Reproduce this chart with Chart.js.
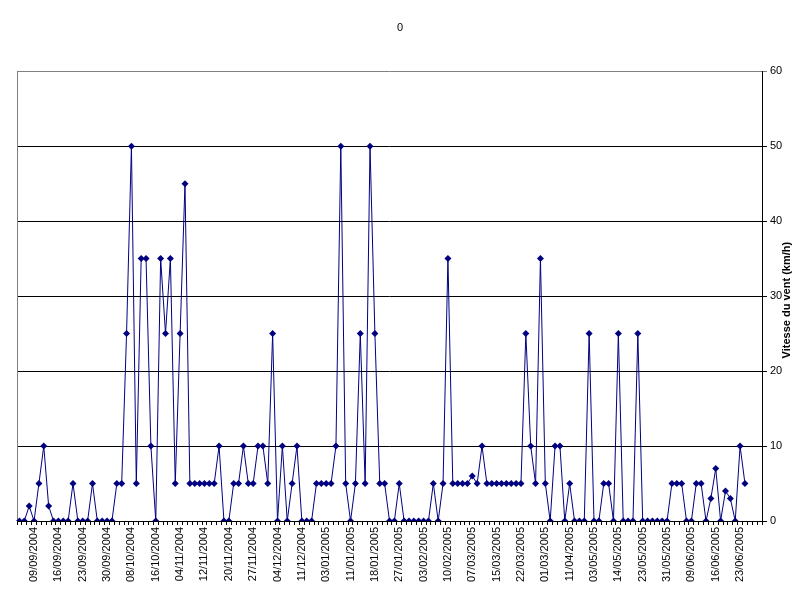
<!DOCTYPE html>
<html>
<head>
<meta charset="utf-8">
<script src="https://cdn.jsdelivr.net/npm/chart.js@4.4.0/dist/chart.umd.min.js"></script>
<style>
  body { margin: 0; background: #fff; }
</style>
</head>
<body>
<canvas id="chart" width="800" height="600"></canvas>
<script>
// dates shown under the axis (one every 5 readings)
const dateLabels = [
  '09/09/2004', '16/09/2004', '23/09/2004', '30/09/2004', '08/10/2004',
  '16/10/2004', '04/11/2004', '12/11/2004', '20/11/2004', '27/11/2004',
  '04/12/2004', '11/12/2004', '03/01/2005', '11/01/2005', '18/01/2005',
  '27/01/2005', '03/02/2005', '10/02/2005', '07/03/2005', '15/03/2005',
  '22/03/2005', '01/03/2005', '11/04/2005', '03/05/2005', '14/05/2005',
  '23/05/2005', '31/05/2005', '09/06/2005', '16/06/2005', '23/06/2005'
];
const firstLabel = 3;
const labelStep = 5;
const slots = 153;

// wind speed readings (km/h)
const windSpeed = [
  0, 0, 2, 0, 5, 10, 2, 0, 0, 0,
  0, 5, 0, 0, 0, 5, 0, 0, 0, 0,
  5, 5, 25, 50, 5, 35, 35, 10, 0, 35,
  25, 35, 5, 25, 45, 5, 5, 5, 5, 5,
  5, 10, 0, 0, 5, 5, 10, 5, 5, 10,
  10, 5, 25, 0, 10, 0, 5, 10, 0, 0,
  0, 5, 5, 5, 5, 10, 50, 5, 0, 5,
  25, 5, 50, 25, 5, 5, 0, 0, 5, 0,
  0, 0, 0, 0, 0, 5, 0, 5, 35, 5,
  5, 5, 5, 6, 5, 10, 5, 5, 5, 5,
  5, 5, 5, 5, 25, 10, 5, 35, 5, 0,
  10, 10, 0, 5, 0, 0, 0, 25, 0, 0,
  5, 5, 0, 25, 0, 0, 0, 25, 0, 0,
  0, 0, 0, 0, 5, 5, 5, 0, 0, 5,
  5, 0, 3, 7, 0, 4, 3, 0, 10, 5
];

const labels = [];
for (let i = 0; i < slots; i++) {
  const k = (i - firstLabel) / labelStep;
  labels.push(Number.isInteger(k) && k >= 0 && k < dateLabels.length ? dateLabels[k] : '');
}

const font = '"Liberation Sans", Arial, sans-serif';

const frame = {
  id: 'frame',
  beforeDatasetsDraw(chart) {
    const { ctx, chartArea: a } = chart;
    ctx.save();
    ctx.strokeStyle = '#808080';
    ctx.lineWidth = 1;
    ctx.beginPath();
    ctx.moveTo(Math.round(a.left) + 0.5, a.top);
    ctx.lineTo(Math.round(a.left) + 0.5, a.bottom);
    ctx.stroke();
    ctx.restore();
  },
  afterDraw(chart) {
    const { ctx, chartArea: a } = chart;
    ctx.save();
    ctx.translate(787, (a.top + a.bottom) / 2 + 4);
    ctx.rotate(-Math.PI / 2);
    ctx.font = 'bold 11px ' + font;
    ctx.fillStyle = '#000';
    ctx.textAlign = 'center';
    ctx.textBaseline = 'middle';
    ctx.fillText('Vitesse du vent (km/h)', 0, 0);
    ctx.restore();
  }
};

new Chart(document.getElementById('chart'), {
  type: 'line',
  data: {
    labels: labels,
    datasets: [{
      data: windSpeed,
      xAxisID: 'x',
      yAxisID: 'y',
      borderColor: '#000080',
      backgroundColor: '#000080',
      borderWidth: 1,
      tension: 0,
      pointStyle: 'rectRot',
      pointRadius: 3.5,
      pointBorderWidth: 0,
      pointBackgroundColor: '#000080'
    }]
  },
  options: {
    responsive: false,
    animation: false,
    devicePixelRatio: 1,
    layout: { padding: 0 },
    plugins: {
      legend: { display: false },
      tooltip: { enabled: false },
      title: {
        display: true,
        text: '0',
        color: '#000',
        font: { family: font, size: 11, weight: 'normal' },
        padding: { top: 21, bottom: 37 }
      }
    },
    scales: {
      x: {
        offset: true,
        grid: {
          offset: true,
          drawOnChartArea: false,
          color: '#000',
          tickLength: 4
        },
        border: { color: '#000' },
        ticks: {
          autoSkip: false,
          maxRotation: 90,
          minRotation: 90,
          padding: 2,
          color: '#000',
          font: { family: font, size: 11 }
        },
        afterFit(scale) { scale.height = 79; }
      },
      y: {
        position: 'right',
        min: 0,
        max: 60,
        grid: {
          color: (c) => c.tick.value === 60 ? '#808080' : '#000',
          tickLength: 5
        },
        border: { color: '#000' },
        ticks: {
          stepSize: 10,
          padding: 3,
          color: '#000',
          font: { family: font, size: 11 }
        },
        afterFit(scale) { scale.width = 38; }
      },
      // empty spacer on the left so the plot starts at x=17
      gap: {
        position: 'left',
        display: true,
        grid: { display: false },
        border: { display: false },
        ticks: { display: false },
        afterFit(scale) { scale.width = 17; }
      }
    }
  },
  plugins: [frame]
});
</script>
</body>
</html>
